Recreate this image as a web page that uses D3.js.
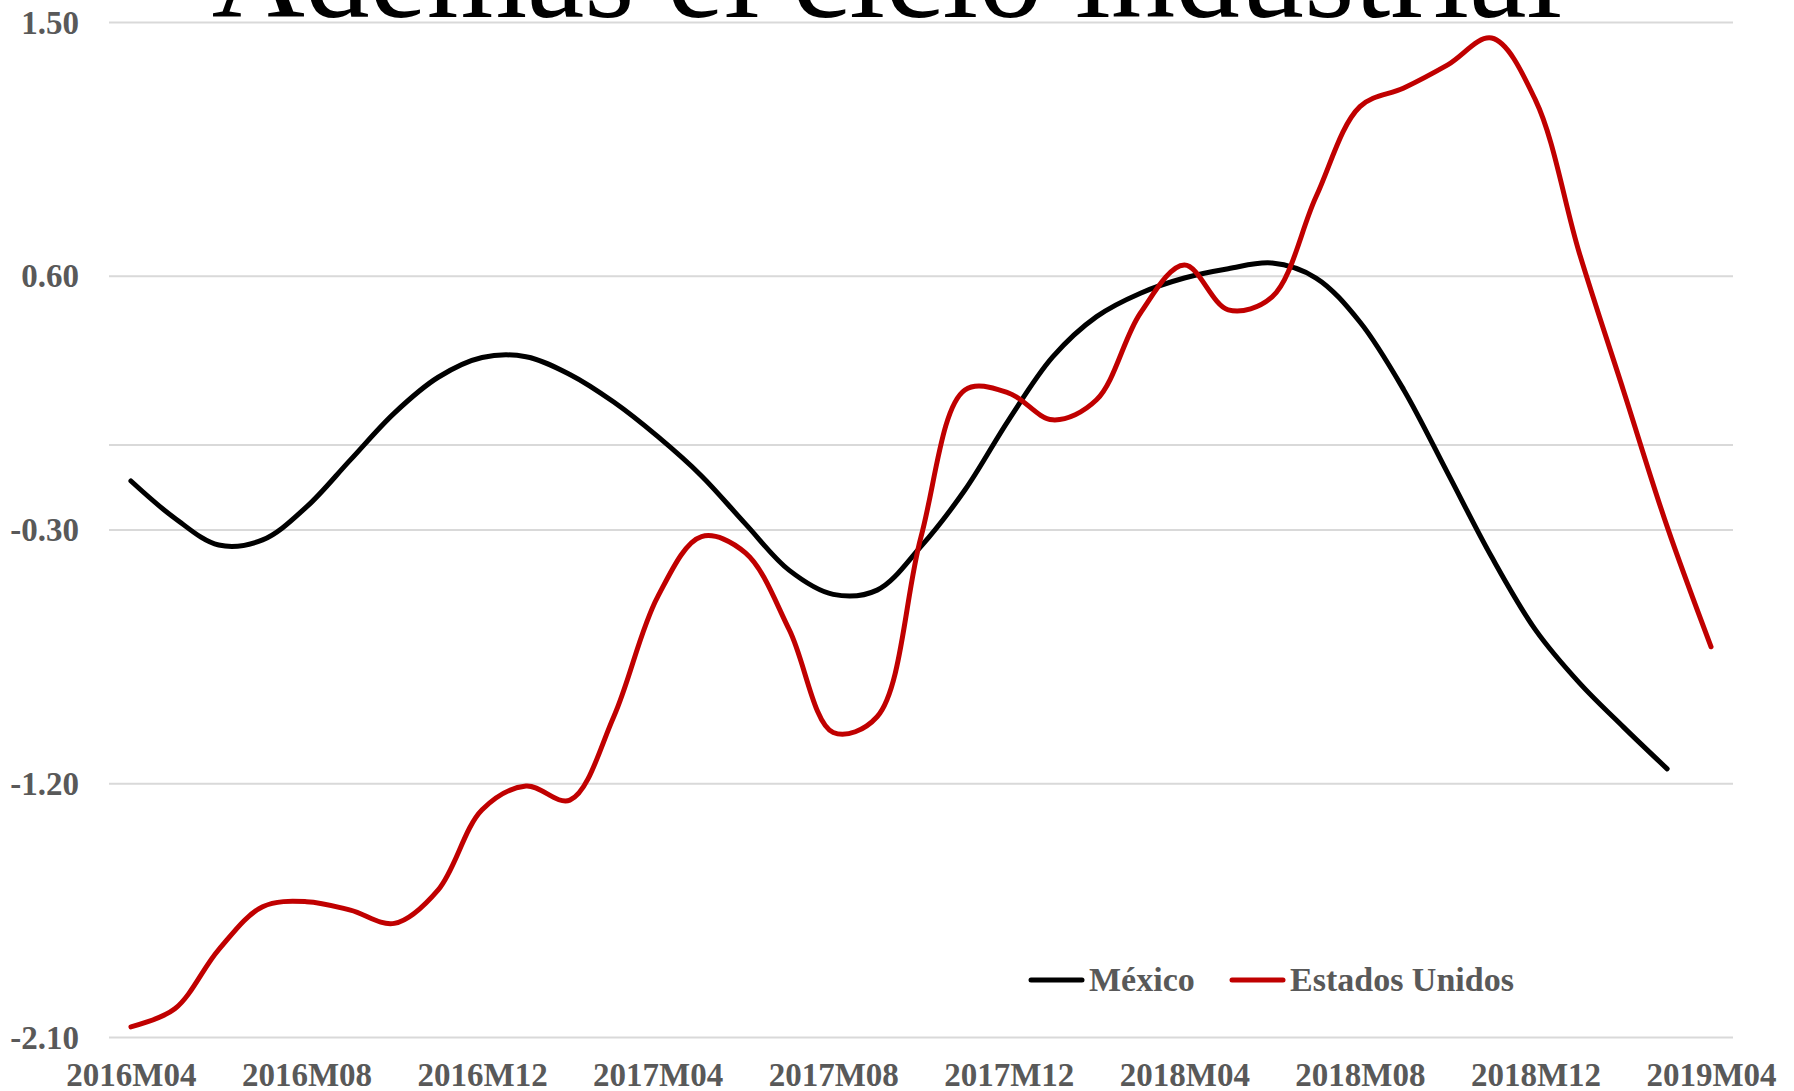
<!DOCTYPE html>
<html>
<head>
<meta charset="utf-8">
<script src="https://cdn.jsdelivr.net/npm/d3@7"></script>
<style>
  body { margin: 0; background: #fff; }
  svg { display: block; }
</style>
</head>
<body>
<script>
const months = [
    "2016M04", "2016M05", "2016M06", "2016M07", "2016M08", "2016M09", "2016M10", "2016M11",
    "2016M12", "2017M01", "2017M02", "2017M03", "2017M04", "2017M05", "2017M06", "2017M07",
    "2017M08", "2017M09", "2017M10", "2017M11", "2017M12", "2018M01", "2018M02", "2018M03",
    "2018M04", "2018M05", "2018M06", "2018M07", "2018M08", "2018M09", "2018M10", "2018M11",
    "2018M12", "2019M01", "2019M02", "2019M03", "2019M04"
];

const tickMonths = ["2016M04", "2016M08", "2016M12", "2017M04", "2017M08", "2017M12",
    "2018M04", "2018M08", "2018M12", "2019M04"];

const yTicks = [1.5, 0.6, -0.3, -1.2, -2.1];

// México termina en 2019M03
const mexico = [
    -0.128, -0.26, -0.355, -0.337, -0.22, -0.053, 0.113, 0.24,
    0.31, 0.313, 0.25, 0.152, 0.03, -0.11, -0.28, -0.445,
    -0.53, -0.515, -0.36, -0.16, 0.089, 0.312, 0.455, 0.538,
    0.592, 0.625, 0.645, 0.592, 0.436, 0.195, -0.1, -0.397,
    -0.656, -0.844, -1.0, -1.149
];

const estadosUnidos = [
    -2.064, -2.0, -1.79, -1.638, -1.62, -1.65, -1.697, -1.578,
    -1.294, -1.21, -1.26, -0.964, -0.539, -0.325, -0.383, -0.656,
    -1.02, -0.964, -0.326, 0.195, 0.184, 0.089, 0.16, 0.468,
    0.638, 0.479, 0.525, 0.88, 1.2, 1.266, 1.348, 1.443,
    1.223, 0.68, 0.195, -0.29, -0.716
];

const series = [
    { name: "México", color: "#000000", values: mexico },
    { name: "Estados Unidos", color: "#C00000", values: estadosUnidos }
];

const width = 1794;
const height = 1091;
const margin = { left: 109, right: 61, top: 22, bottom: 54 };
const font = "'Palatino Linotype', 'Book Antiqua', Palatino, 'Liberation Serif', serif";

const svg = d3.select("body").append("svg")
    .attr("width", width)
    .attr("height", height);

svg.append("rect")
    .attr("width", width)
    .attr("height", height)
    .attr("fill", "#fff");

const x = d3.scalePoint()
    .domain(months)
    .range([margin.left, width - margin.right])
    .padding(0.5);

const y = d3.scaleLinear()
    .domain([-2.1, 1.5])
    .range([height - margin.bottom, margin.top]);

// titulo (cortado arriba)
svg.append("text")
    .attr("x", 887)
    .attr("y", 17)
    .attr("text-anchor", "middle")
    .attr("font-family", font)
    .attr("font-size", 129)
    .attr("fill", "#000")
    .text("Además el ciclo industrial");

// eje y + grid
const yAxis = svg.append("g")
    .attr("transform", `translate(${margin.left},0)`)
    .call(d3.axisLeft(y)
        .tickValues(yTicks)
        .tickSize(-(width - margin.left - margin.right))
        .tickPadding(30)
        .tickFormat(d3.format(".2f")));

yAxis.selectAll(".domain").remove();
yAxis.selectAll(".tick line")
    .attr("stroke", "#D9D9D9")
    .attr("stroke-width", 2);
yAxis.selectAll(".tick text")
    .attr("font-family", font)
    .attr("font-size", 33)
    .attr("font-weight", "bold")
    .attr("fill", "#595959")
    .attr("dy", "0.34em")
    .text(d => d3.format(".2f")(d).replace("−", "-"));

// linea del cero (eje de categorias)
svg.append("line")
    .attr("x1", margin.left)
    .attr("x2", width - margin.right)
    .attr("y1", y(0))
    .attr("y2", y(0))
    .attr("stroke", "#D9D9D9")
    .attr("stroke-width", 2);

// eje x
const xAxis = svg.append("g")
    .attr("transform", `translate(0,${y(-2.1)})`)
    .call(d3.axisBottom(x).tickValues(tickMonths).tickSize(0));

xAxis.selectAll(".domain").remove();
xAxis.selectAll(".tick text")
    .attr("font-family", font)
    .attr("font-size", 33)
    .attr("font-weight", "bold")
    .attr("fill", "#595959")
    .attr("y", 49)
    .attr("dy", 0);

// lineas
const line = d3.line()
    .x((d, i) => x(months[i]))
    .y(d => y(d))
    .curve(d3.curveCatmullRom);

svg.selectAll(".serie")
    .data(series)
    .join("path")
    .attr("class", "serie")
    .attr("fill", "none")
    .attr("stroke", d => d.color)
    .attr("stroke-width", 5)
    .attr("stroke-linecap", "round")
    .attr("stroke-linejoin", "round")
    .attr("d", d => line(d.values));

// leyenda
const legendX = [1031, 1232];
const legend = svg.selectAll(".legend")
    .data(series)
    .join("g")
    .attr("class", "legend")
    .attr("transform", (d, i) => `translate(${legendX[i]},980)`);

legend.append("line")
    .attr("x1", 0)
    .attr("x2", 51)
    .attr("stroke", d => d.color)
    .attr("stroke-width", 5)
    .attr("stroke-linecap", "round");

legend.append("text")
    .attr("x", 58)
    .attr("y", 11)
    .attr("font-family", font)
    .attr("font-size", 34)
    .attr("font-weight", "bold")
    .attr("fill", "#595959")
    .text(d => d.name);
</script>
</body>
</html>
